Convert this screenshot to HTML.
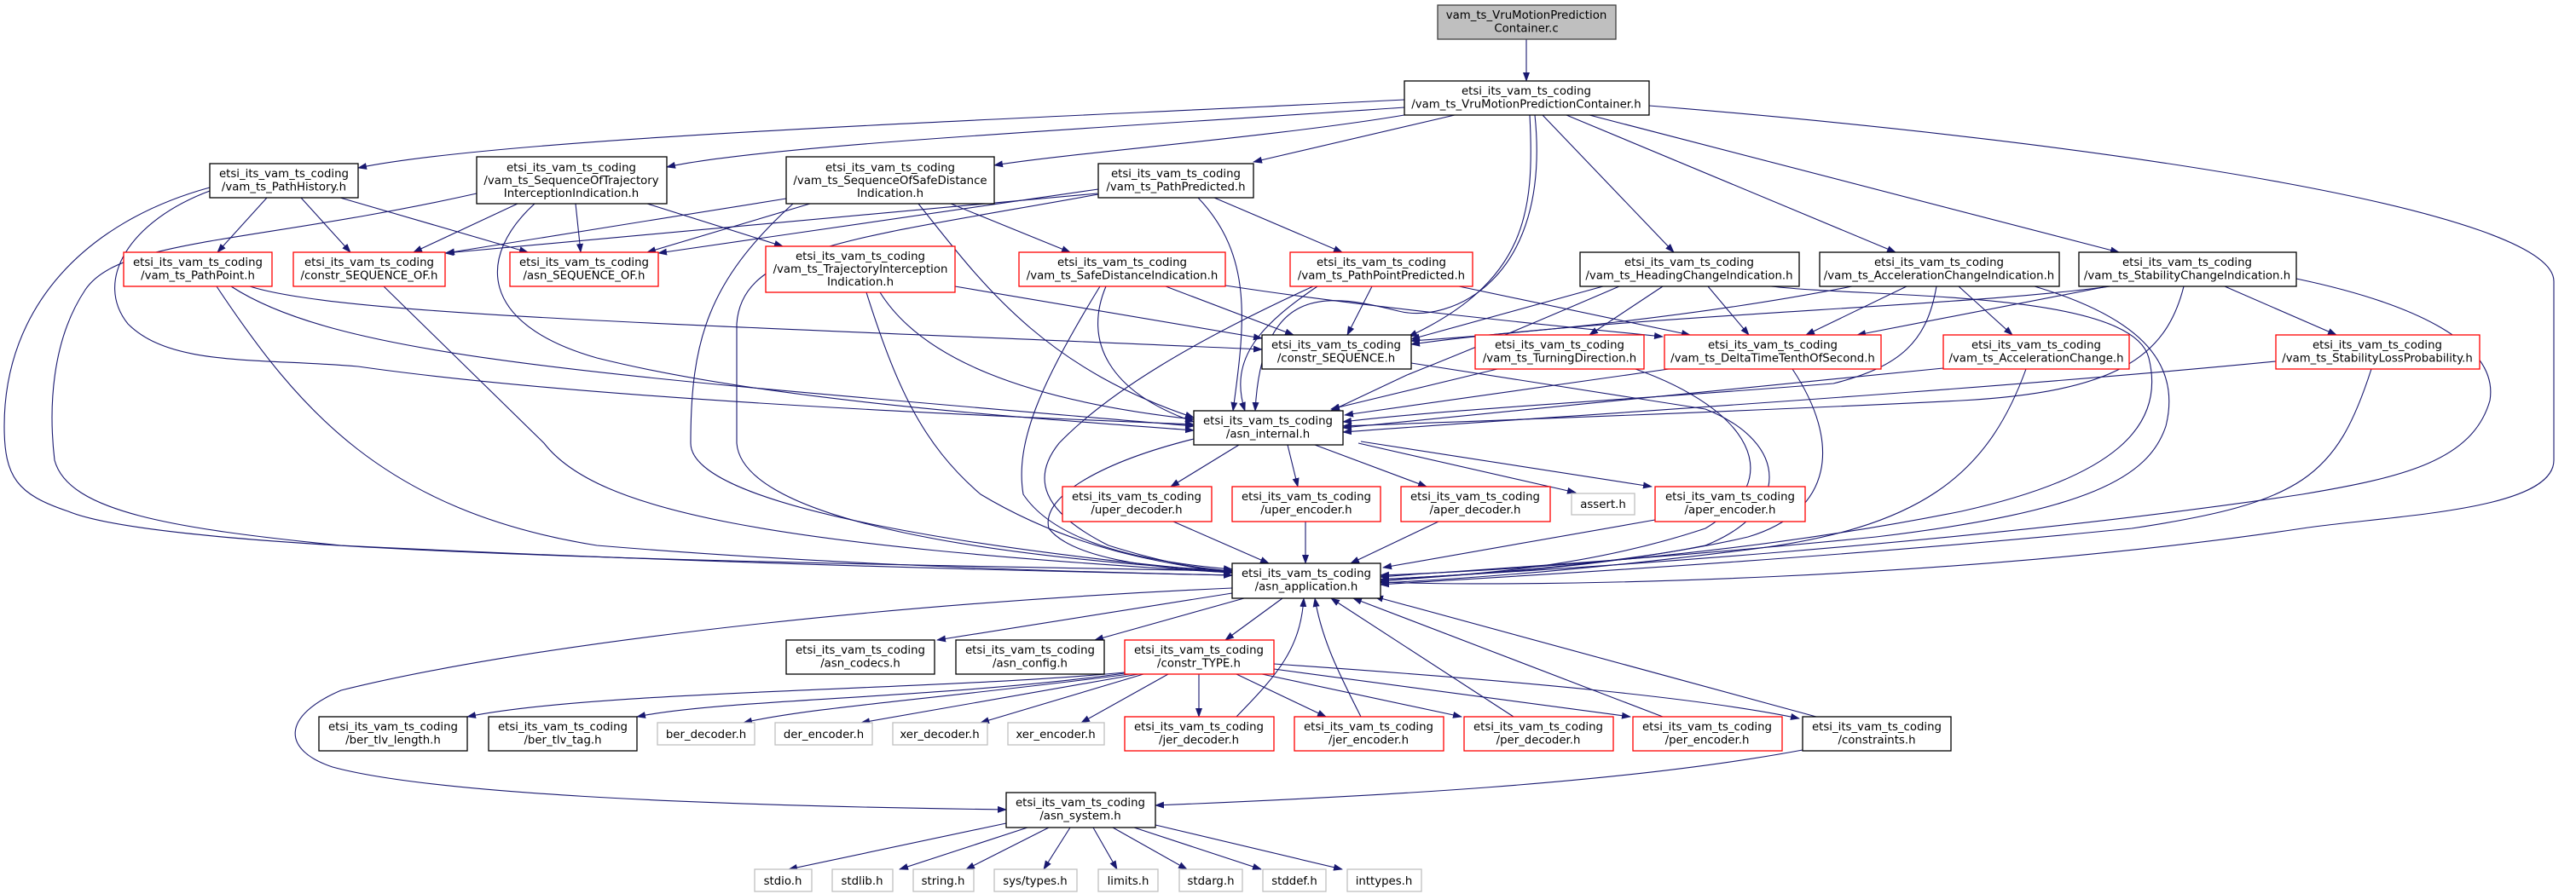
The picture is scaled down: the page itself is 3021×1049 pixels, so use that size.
<!DOCTYPE html>
<html><head><meta charset="utf-8"><style>
html,body{margin:0;padding:0;background:#fff;}
svg{display:block;}
text{font-family:"DejaVu Sans","Liberation Sans",sans-serif;font-size:13.3px;fill:#000;text-anchor:middle;}
.e{fill:none;stroke:#191970;stroke-width:1.1;marker-end:url(#a);}
.b{fill:#fff;stroke:#000;stroke-width:1.3;}
.r{fill:#fff;stroke:#ff0000;stroke-width:1.3;}
.g{fill:#fff;stroke:#bfbfbf;stroke-width:1.3;}
</style></head><body>
<svg width="3021" height="1049" viewBox="0 0 3021 1049" xmlns="http://www.w3.org/2000/svg">
<defs><marker id="a" markerWidth="11" markerHeight="8" refX="10" refY="4" orient="auto" markerUnits="userSpaceOnUse"><path d="M0,0 L11,4 L0,8z" fill="#191970"/></marker></defs>
<g>
<path class="e" d="M1790,46 L1790,95"/>
<path class="e" d="M1647,117 C1200,140 600,160 420,197"/>
<path class="e" d="M1647,126 C1300,150 900,170 782,196"/>
<path class="e" d="M1647,135 C1500,160 1250,180 1166,194"/>
<path class="e" d="M1706,135 L1470,190"/>
<path class="e" d="M1809,135 L1963,296"/>
<path class="e" d="M1837,135 L2223,296"/>
<path class="e" d="M1864,135 L2485,296"/>
<path class="e" d="M1794,135 C1800,250 1790,330 1652,395"/>
<path class="e" d="M1800,135 C1820,330 1700,380 1640,365 C1560,345 1480,330 1472,482"/>
<path class="e" d="M1934,124 C2500,170 2995,250 2995,330 L2995,540 C2995,600 2800,605 2700,620 C2300,680 1800,690 1619,683"/>
<path class="e" d="M313,232 L255,296"/>
<path class="e" d="M353,232 L411,296"/>
<path class="e" d="M399,232 L619,296"/>
<path class="e" d="M246,224 C150,260 110,330 150,380 C200,430 300,420 420,430 C700,470 1200,490 1400,498"/>
<path class="e" d="M246,220 C100,260 5,360 5,500 C5,560 20,580 80,600 C200,650 900,660 1445,670"/>
<path class="e" d="M607,239 L485,296"/>
<path class="e" d="M675,239 L681,296"/>
<path class="e" d="M759,239 L918,289"/>
<path class="e" d="M627,239 C560,300 560,380 700,420 C900,470 1200,490 1400,505"/>
<path class="e" d="M559,227 C300,285 140,280 100,340 C60,400 57,480 64,540 C80,600 200,620 400,640 C800,660 1200,670 1445,675"/>
<path class="e" d="M922,233 L523,297"/>
<path class="e" d="M950,239 L759,296"/>
<path class="e" d="M1115,239 L1255,296"/>
<path class="e" d="M1077,239 C1150,330 1220,430 1400,490"/>
<path class="e" d="M930,239 C830,330 810,400 810,520 C810,600 1200,650 1445,672"/>
<path class="e" d="M1287,227 L522,297"/>
<path class="e" d="M1288,222 L772,297"/>
<path class="e" d="M1424,232 L1574,296"/>
<path class="e" d="M1405,232 C1470,300 1460,380 1446,482"/>
<path class="e" d="M1288,228 C1000,280 870,290 864,380 L864,520 C870,600 1100,650 1445,670"/>
<path class="e" d="M293,336 C400,370 800,380 1480,410"/>
<path class="e" d="M271,336 C400,420 700,440 1400,500"/>
<path class="e" d="M254,336 C350,480 450,600 700,640 C1000,665 1300,672 1445,675"/>
<path class="e" d="M450,336 L638,520 C700,600 900,640 1445,672"/>
<path class="e" d="M1120,336 L1480,397"/>
<path class="e" d="M1032,343 C1080,420 1200,470 1400,492"/>
<path class="e" d="M1016,343 C1050,450 1080,520 1150,580 C1250,640 1350,660 1445,672"/>
<path class="e" d="M1367,336 L1517,393"/>
<path class="e" d="M1437,335 C1600,360 1800,380 1950,395"/>
<path class="e" d="M1297,336 C1270,400 1300,460 1400,495"/>
<path class="e" d="M1290,336 C1220,450 1190,520 1200,580 C1240,640 1350,660 1445,668"/>
<path class="e" d="M1609,336 L1580,393"/>
<path class="e" d="M1711,336 L1982,393"/>
<path class="e" d="M1545,336 C1480,380 1440,420 1460,482"/>
<path class="e" d="M1540,336 C1400,400 1300,460 1242,520 C1210,560 1220,600 1300,640 C1380,665 1420,668 1445,670"/>
<path class="e" d="M1880,336 L1655,398"/>
<path class="e" d="M1950,336 L1864,393"/>
<path class="e" d="M2003,336 L2051,393"/>
<path class="e" d="M1899,336 C1750,400 1700,420 1650,440 L1561,482"/>
<path class="e" d="M2077,336 C2200,350 2500,340 2520,420 C2540,500 2480,560 2300,600 C2000,660 1700,672 1619,675"/>
<path class="e" d="M2172,336 C2000,370 1800,390 1655,400"/>
<path class="e" d="M2236,336 L2118,393"/>
<path class="e" d="M2297,336 L2360,393"/>
<path class="e" d="M2271,336 C2260,400 2230,430 2150,450 C1900,470 1700,480 1575,495"/>
<path class="e" d="M2386,336 C2500,370 2560,420 2540,500 C2520,560 2450,600 2200,630 C1900,660 1700,670 1619,677"/>
<path class="e" d="M2475,336 C2300,360 1900,370 1655,404"/>
<path class="e" d="M2472,336 L2178,393"/>
<path class="e" d="M2609,336 L2740,393"/>
<path class="e" d="M2561,336 C2540,420 2480,460 2300,470 C2000,485 1700,495 1575,500"/>
<path class="e" d="M2693,327 C2850,360 2930,410 2920,470 C2900,540 2820,560 2700,580 C2300,640 1800,670 1619,680"/>
<path class="e" d="M1655,426 L2000,480 C2100,520 2100,600 2000,640 C1850,670 1700,675 1619,680"/>
<path class="e" d="M1756,433 L1561,480"/>
<path class="e" d="M1918,433 C2050,480 2100,560 2000,620 C1850,670 1700,676 1619,680"/>
<path class="e" d="M1957,433 L1577,487"/>
<path class="e" d="M2102,433 C2160,520 2150,600 2050,630 C1900,665 1700,675 1619,682"/>
<path class="e" d="M2279,432 L1575,502"/>
<path class="e" d="M2376,433 C2330,560 2250,620 2050,645 C1850,670 1700,680 1619,684"/>
<path class="e" d="M2669,424 C2300,460 1800,490 1575,507"/>
<path class="e" d="M2781,433 C2740,560 2700,590 2500,620 C2100,660 1700,680 1619,686"/>
<path class="e" d="M1453,522 L1373,571"/>
<path class="e" d="M1510,522 L1522,571"/>
<path class="e" d="M1542,522 L1673,571"/>
<path class="e" d="M1593,520 L1848,578"/>
<path class="e" d="M1596,518 L1937,571"/>
<path class="e" d="M1400,515 C1300,540 1220,580 1230,620 C1260,660 1380,668 1445,672"/>
<path class="e" d="M1376,612 L1488,661"/>
<path class="e" d="M1531,612 L1531,661"/>
<path class="e" d="M1687,612 L1584,661"/>
<path class="e" d="M1941,610 L1622,666"/>
<path class="e" d="M1445,696 L1099,751"/>
<path class="e" d="M1459,702 L1284,751"/>
<path class="e" d="M1504,702 L1437,751"/>
<path class="e" d="M1445,690 C1000,710 600,760 400,810 C330,840 330,880 390,900 C500,930 800,945 1180,950"/>
<path class="e" d="M1319,789 C1100,810 700,810 548,841"/>
<path class="e" d="M1319,790 C1100,820 850,820 747,841"/>
<path class="e" d="M1325,791 C1100,820 950,830 872,848"/>
<path class="e" d="M1335,791 L1010,848"/>
<path class="e" d="M1341,791 L1150,848"/>
<path class="e" d="M1370,791 L1268,848"/>
<path class="e" d="M1406,791 L1406,841"/>
<path class="e" d="M1450,791 L1555,841"/>
<path class="e" d="M1480,791 L1714,841"/>
<path class="e" d="M1494,785 L1912,841"/>
<path class="e" d="M1494,779 C1800,800 2000,820 2110,843"/>
<path class="e" d="M1450,841 C1500,790 1525,760 1529,702"/>
<path class="e" d="M1596,841 C1570,790 1550,750 1542,702"/>
<path class="e" d="M1775,841 L1561,702"/>
<path class="e" d="M1950,841 L1587,702"/>
<path class="e" d="M2130,841 L1612,700"/>
<path class="e" d="M2114,880 C1900,920 1600,935 1355,945"/>
<path class="e" d="M1180,966 L925,1020"/>
<path class="e" d="M1205,971 L1055,1020"/>
<path class="e" d="M1230,971 L1133,1020"/>
<path class="e" d="M1255,971 L1224,1020"/>
<path class="e" d="M1282,971 L1310,1020"/>
<path class="e" d="M1305,971 L1392,1020"/>
<path class="e" d="M1330,971 L1479,1020"/>
<path class="e" d="M1355,968 L1574,1020"/>
</g>
<g>
<rect x="1686" y="6" width="209" height="40" fill="#bfbfbf" stroke="#404040" stroke-width="1.3"/>
<text x="1790" y="22">vam_ts_VruMotionPrediction</text><text x="1790" y="37.5">Container.c</text>

<rect class="b" x="1647" y="95" width="287" height="40"/>
<text x="1790" y="111">etsi_its_vam_ts_coding</text><text x="1790" y="126.5">/vam_ts_VruMotionPredictionContainer.h</text>

<rect class="b" x="246" y="192" width="174" height="40"/>
<text x="333" y="208">etsi_its_vam_ts_coding</text><text x="333" y="223.5">/vam_ts_PathHistory.h</text>

<rect class="b" x="559" y="184" width="223" height="55"/>
<text x="670" y="201">etsi_its_vam_ts_coding</text><text x="670" y="216">/vam_ts_SequenceOfTrajectory</text><text x="670" y="231">InterceptionIndication.h</text>

<rect class="b" x="922" y="184" width="244" height="55"/>
<text x="1044" y="201">etsi_its_vam_ts_coding</text><text x="1044" y="216">/vam_ts_SequenceOfSafeDistance</text><text x="1044" y="231">Indication.h</text>

<rect class="b" x="1288" y="192" width="182" height="40"/>
<text x="1379" y="208">etsi_its_vam_ts_coding</text><text x="1379" y="223.5">/vam_ts_PathPredicted.h</text>

<rect class="r" x="145" y="296" width="174" height="40"/>
<text x="232" y="312">etsi_its_vam_ts_coding</text><text x="232" y="327.5">/vam_ts_PathPoint.h</text>

<rect class="r" x="344" y="296" width="178" height="40"/>
<text x="433" y="312">etsi_its_vam_ts_coding</text><text x="433" y="327.5">/constr_SEQUENCE_OF.h</text>

<rect class="r" x="598" y="296" width="174" height="40"/>
<text x="685" y="312">etsi_its_vam_ts_coding</text><text x="685" y="327.5">/asn_SEQUENCE_OF.h</text>

<rect class="r" x="898" y="289" width="222" height="54"/>
<text x="1009" y="305">etsi_its_vam_ts_coding</text><text x="1009" y="320">/vam_ts_TrajectoryInterception</text><text x="1009" y="335">Indication.h</text>

<rect class="r" x="1195" y="296" width="242" height="40"/>
<text x="1316" y="312">etsi_its_vam_ts_coding</text><text x="1316" y="327.5">/vam_ts_SafeDistanceIndication.h</text>

<rect class="r" x="1513" y="296" width="214" height="40"/>
<text x="1620" y="312">etsi_its_vam_ts_coding</text><text x="1620" y="327.5">/vam_ts_PathPointPredicted.h</text>

<rect class="b" x="1853" y="296" width="257" height="40"/>
<text x="1981" y="312">etsi_its_vam_ts_coding</text><text x="1981" y="327.5">/vam_ts_HeadingChangeIndication.h</text>

<rect class="b" x="2134" y="296" width="281" height="40"/>
<text x="2274" y="312">etsi_its_vam_ts_coding</text><text x="2274" y="327.5">/vam_ts_AccelerationChangeIndication.h</text>

<rect class="b" x="2438" y="296" width="255" height="40"/>
<text x="2565" y="312">etsi_its_vam_ts_coding</text><text x="2565" y="327.5">/vam_ts_StabilityChangeIndication.h</text>

<rect class="b" x="1480" y="393" width="175" height="40"/>
<text x="1567" y="409">etsi_its_vam_ts_coding</text><text x="1567" y="424.5">/constr_SEQUENCE.h</text>

<rect class="r" x="1730" y="393" width="198" height="40"/>
<text x="1829" y="409">etsi_its_vam_ts_coding</text><text x="1829" y="424.5">/vam_ts_TurningDirection.h</text>

<rect class="r" x="1952" y="393" width="254" height="40"/>
<text x="2079" y="409">etsi_its_vam_ts_coding</text><text x="2079" y="424.5">/vam_ts_DeltaTimeTenthOfSecond.h</text>

<rect class="r" x="2279" y="393" width="218" height="40"/>
<text x="2388" y="409">etsi_its_vam_ts_coding</text><text x="2388" y="424.5">/vam_ts_AccelerationChange.h</text>

<rect class="r" x="2669" y="393" width="239" height="40"/>
<text x="2788" y="409">etsi_its_vam_ts_coding</text><text x="2788" y="424.5">/vam_ts_StabilityLossProbability.h</text>

<rect class="b" x="1400" y="482" width="175" height="40"/>
<text x="1487" y="498">etsi_its_vam_ts_coding</text><text x="1487" y="513.5">/asn_internal.h</text>

<rect class="r" x="1246" y="571" width="175" height="41"/>
<text x="1333" y="587">etsi_its_vam_ts_coding</text><text x="1333" y="602.5">/uper_decoder.h</text>
<rect class="r" x="1445" y="571" width="174" height="41"/>
<text x="1532" y="587">etsi_its_vam_ts_coding</text><text x="1532" y="602.5">/uper_encoder.h</text>
<rect class="r" x="1643" y="571" width="175" height="41"/>
<text x="1730" y="587">etsi_its_vam_ts_coding</text><text x="1730" y="602.5">/aper_decoder.h</text>
<rect class="g" x="1843" y="579" width="74" height="25"/>
<text x="1880" y="596">assert.h</text>
<rect class="r" x="1941" y="571" width="176" height="41"/>
<text x="2029" y="587">etsi_its_vam_ts_coding</text><text x="2029" y="602.5">/aper_encoder.h</text>

<rect class="b" x="1445" y="661" width="174" height="41"/>
<text x="1532" y="677">etsi_its_vam_ts_coding</text><text x="1532" y="692.5">/asn_application.h</text>

<rect class="b" x="922" y="751" width="174" height="40"/>
<text x="1009" y="767">etsi_its_vam_ts_coding</text><text x="1009" y="782.5">/asn_codecs.h</text>
<rect class="b" x="1121" y="751" width="174" height="40"/>
<text x="1208" y="767">etsi_its_vam_ts_coding</text><text x="1208" y="782.5">/asn_config.h</text>
<rect class="r" x="1319" y="751" width="175" height="40"/>
<text x="1406" y="767">etsi_its_vam_ts_coding</text><text x="1406" y="782.5">/constr_TYPE.h</text>

<rect class="b" x="374" y="841" width="174" height="40"/>
<text x="461" y="857">etsi_its_vam_ts_coding</text><text x="461" y="872.5">/ber_tlv_length.h</text>
<rect class="b" x="573" y="841" width="174" height="40"/>
<text x="660" y="857">etsi_its_vam_ts_coding</text><text x="660" y="872.5">/ber_tlv_tag.h</text>
<rect class="g" x="771" y="848" width="114" height="26"/>
<text x="828" y="866">ber_decoder.h</text>
<rect class="g" x="909" y="848" width="114" height="26"/>
<text x="966" y="866">der_encoder.h</text>
<rect class="g" x="1047" y="848" width="111" height="26"/>
<text x="1102" y="866">xer_decoder.h</text>
<rect class="g" x="1182" y="848" width="113" height="26"/>
<text x="1238" y="866">xer_encoder.h</text>
<rect class="r" x="1319" y="841" width="175" height="40"/>
<text x="1406" y="857">etsi_its_vam_ts_coding</text><text x="1406" y="872.5">/jer_decoder.h</text>
<rect class="r" x="1518" y="841" width="175" height="40"/>
<text x="1605" y="857">etsi_its_vam_ts_coding</text><text x="1605" y="872.5">/jer_encoder.h</text>
<rect class="r" x="1717" y="841" width="175" height="40"/>
<text x="1804" y="857">etsi_its_vam_ts_coding</text><text x="1804" y="872.5">/per_decoder.h</text>
<rect class="r" x="1915" y="841" width="175" height="40"/>
<text x="2002" y="857">etsi_its_vam_ts_coding</text><text x="2002" y="872.5">/per_encoder.h</text>
<rect class="b" x="2114" y="841" width="174" height="40"/>
<text x="2201" y="857">etsi_its_vam_ts_coding</text><text x="2201" y="872.5">/constraints.h</text>

<rect class="b" x="1180" y="930" width="175" height="41"/>
<text x="1267" y="946">etsi_its_vam_ts_coding</text><text x="1267" y="961.5">/asn_system.h</text>

<rect class="g" x="885" y="1020" width="67" height="26"/><text x="918" y="1038">stdio.h</text>
<rect class="g" x="976" y="1020" width="71" height="26"/><text x="1011" y="1038">stdlib.h</text>
<rect class="g" x="1071" y="1020" width="71" height="26"/><text x="1106" y="1038">string.h</text>
<rect class="g" x="1166" y="1020" width="97" height="26"/><text x="1214" y="1038">sys/types.h</text>
<rect class="g" x="1288" y="1020" width="70" height="26"/><text x="1323" y="1038">limits.h</text>
<rect class="g" x="1383" y="1020" width="74" height="26"/><text x="1420" y="1038">stdarg.h</text>
<rect class="g" x="1481" y="1020" width="74" height="26"/><text x="1518" y="1038">stddef.h</text>
<rect class="g" x="1580" y="1020" width="87" height="26"/><text x="1623" y="1038">inttypes.h</text>
</g>
</svg>
</body></html>
